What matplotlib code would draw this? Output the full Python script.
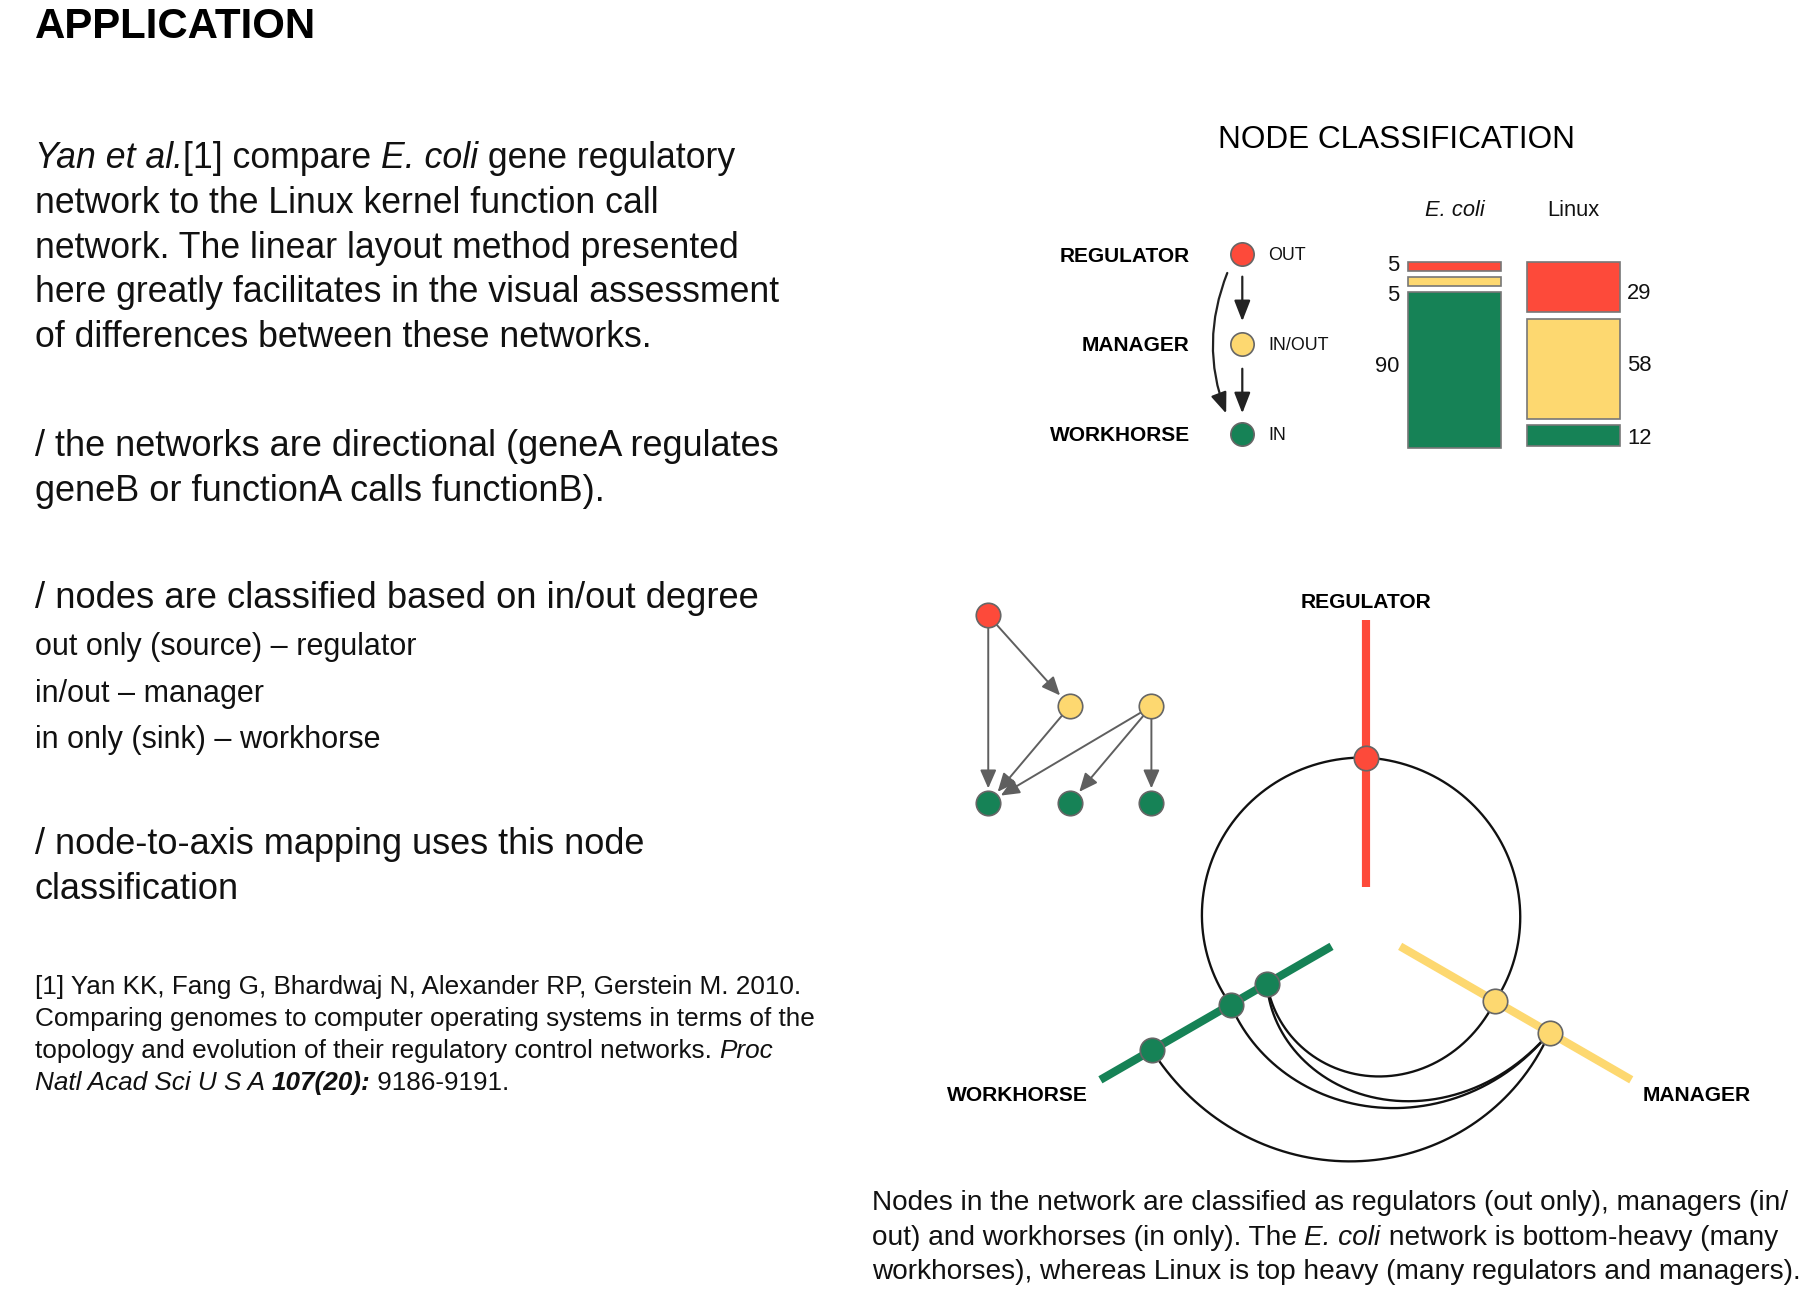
import numpy as np
import matplotlib
matplotlib.use("Agg")
import matplotlib.pyplot as plt

# ---- data ----
title = "APPLICATION"
para_intro = ["_Yan et al._[1] compare _E. coli_ gene regulatory",
              "network to the Linux kernel function call",
              "network. The linear layout method presented",
              "here greatly facilitates in the visual assessment",
              "of differences between these networks."]
para_dir = ["/ the networks are directional (geneA regulates",
            "geneB or functionA calls functionB)."]
para_class = "/ nodes are classified based on in/out degree"
class_items = ["out only (source) \u2013 regulator",
               "in/out \u2013 manager",
               "in only (sink) \u2013 workhorse"]
para_axis = ["/ node-to-axis mapping uses this node",
             "classification"]
reference = ["[1] Yan KK, Fang G, Bhardwaj N, Alexander RP, Gerstein M. 2010.",
             "Comparing genomes to computer operating systems in terms of the",
             "topology and evolution of their regulatory control networks. _Proc_",
             "_Natl Acad Sci U S A ^107(20):^_ 9186-9191."]
caption = ["Nodes in the network are classified as regulators (out only), managers (in/",
           "out) and workhorses (in only). The _E. coli_ network is bottom-heavy (many",
           "workhorses), whereas Linux is top heavy (many regulators and managers)."]

categories = ["REGULATOR", "MANAGER", "WORKHORSE"]
io_labels = ["OUT", "IN/OUT", "IN"]
networks = ["_E. coli_", "Linux"]
ecoli_pct = [5, 5, 90]
linux_pct = [29, 58, 12]

# small example network: (column, row, class)
small_nodes = [(0, 0, 0), (1, 1, 1), (2, 1, 1), (0, 2, 2), (1, 2, 2), (2, 2, 2)]
small_edges = [(0, 1), (0, 3), (1, 3), (2, 3), (2, 4), (2, 5)]

# hive plot: node class and radius along its axis
hive_class = [0, 1, 1, 2, 2, 2]
hive_radius = [145, 128, 182, 212, 134, 98]
hive_edges = [(0, 4), (0, 1), (1, 5), (2, 5), (2, 4), (2, 3)]

colors = ["#FD4A3A", "#FDD870", "#168256"]

# ---- canvas in drawing units ----
W, H = 1560, 1112
S = 1818 / W            # pixels per unit
PT = S * 72 / 100       # points per unit
plt.rcParams["font.family"] = ["Liberation Sans", "DejaVu Sans"]
fig = plt.figure(figsize=(18.18, 12.96), dpi=100)
ax = fig.add_axes([0, 0, 1, 1])
ax.set_xlim(0, W)
ax.set_ylim(H, 0)
ax.axis("off")
rend = fig.canvas.get_renderer()


def width_u(s, **kw):
    t1 = ax.text(0, 0, "|" + s + "|", **kw)
    t2 = ax.text(0, 0, "||", **kw)
    w = t1.get_window_extent(rend).width - t2.get_window_extent(rend).width
    t1.remove()
    t2.remove()
    return w / S


def parse(line):
    parts, buf, it, bd = [], "", False, False
    for ch in line:
        if ch in "_^":
            if buf:
                parts.append((buf, it, bd))
            buf = ""
            if ch == "_":
                it = not it
            else:
                bd = not bd
        else:
            buf += ch
    if buf:
        parts.append((buf, it, bd))
    return parts


def rich(x, y, line, em, ha="left", color="#111111", bold=False):
    fs = em * PT
    parts = parse(line)
    kws = [dict(fontsize=fs, style="italic" if it else "normal",
                weight="bold" if (bd or bold) else "normal") for _, it, bd in parts]
    widths = [width_u(p[0], **k) for p, k in zip(parts, kws)]
    if ha == "center":
        x -= sum(widths) / 2
    elif ha == "right":
        x -= sum(widths)
    for (txt, _, _), k, w in zip(parts, kws, widths):
        ax.text(x, y, txt, va="baseline", ha="left", color=color, **k)
        x += w


# ---- left column ----
rich(30, 33, title, 36, bold=True, color="black")
for i, ln in enumerate(para_intro):
    rich(30, 144 + i * 38.5, ln, 30.6)
for i, ln in enumerate(para_dir):
    rich(30, 391 + i * 38.5, ln, 31.0)
rich(30, 522, para_class, 31.2)
for i, ln in enumerate(class_items):
    rich(30, 562 + i * 40, ln, 26.2)
for i, ln in enumerate(para_axis):
    rich(30, 733 + i * 38.5, ln, 31.0)
for i, ln in enumerate(reference):
    rich(30, 853 + i * 27.5, ln, 22.4)

# ---- node classification legend ----
rich(1198, 127, "NODE CLASSIFICATION", 27, ha="center", color="black")
leg_y = [218, 295, 372]
for k in range(3):
    rich(1021, leg_y[k] + 6.5, categories[k], 17.9, ha="right", bold=True, color="black")
    ax.plot(1066, leg_y[k], "o", ms=20 * PT, mfc=colors[k], mec="#666666", mew=1.2, zorder=5)
    rich(1088, leg_y[k] + 5.5, io_labels[k], 15.3)
arrow_kw = dict(arrowstyle="-|>,head_length=0.9,head_width=0.35", color="#222222",
                lw=1.6, mutation_scale=14)
ax.annotate("", xy=(1066, 278), xytext=(1066, 235), arrowprops=arrow_kw)
ax.annotate("", xy=(1066, 357), xytext=(1066, 314), arrowprops=arrow_kw)
ax.annotate("", xy=(1053, 357), xytext=(1054, 232),
            arrowprops=dict(connectionstyle="arc3,rad=0.2", **arrow_kw))

# ---- stacked bars ----
bar_x = [1248, 1350]
bar_top = 225
unit = 1.48
gap = 5.5
nudges = [[-3, 10, -5], [3, -5, 0]]
for j, vals in enumerate([ecoli_pct, linux_pct]):
    rich(bar_x[j], 185, networks[j], 18.8, ha="center")
    y = bar_top
    for k, v in enumerate(vals):
        ax.bar(bar_x[j], v * unit, bottom=y, width=80, color=colors[k],
               edgecolor="#777777", linewidth=1.2)
        yc = y + v * unit / 2 + nudges[j][k]
        if j == 0:
            rich(1201, yc + 7, str(v), 18.9, ha="right")
        else:
            rich(1396, yc + 7, str(v), 18.9, ha="left")
        y += v * unit + gap

# ---- small example network ----
col_x = [848, 918, 988]
row_y = [528, 606, 689]
for a, b in small_edges:
    xa, ya = col_x[small_nodes[a][0]], row_y[small_nodes[a][1]]
    xb, yb = col_x[small_nodes[b][0]], row_y[small_nodes[b][1]]
    ax.annotate("", xy=(xb, yb), xytext=(xa, ya),
                arrowprops=dict(arrowstyle="-|>,head_length=0.8,head_width=0.35",
                                color="#5f5f5f", lw=1.4, mutation_scale=14,
                                shrinkA=9, shrinkB=10.5))
for cx_, ry_, c in small_nodes:
    ax.plot(col_x[cx_], row_y[ry_], "o", ms=21 * PT, mfc=colors[c], mec="#666666",
            mew=1.2, zorder=5)

# ---- hive plot ----
hc = np.array([1172, 795])
axis_ang = [90, 330, 210]   # regulator, manager, workhorse
r_in, r_out = 34, 263


def polar(ang, r):
    th = np.deg2rad(ang)
    return hc[0] + r * np.cos(th), hc[1] - r * np.sin(th)


for k in range(3):
    x0, y0 = polar(axis_ang[k], r_in)
    x1, y1 = polar(axis_ang[k], r_out)
    ax.plot([x0, x1], [y0, y1], color=colors[k], lw=7 * PT, solid_capstyle="butt", zorder=1)

edge_bulge = [5, 0, 15, 5, -4, 4]
t = np.linspace(0, 1, 300)
for (a, b), bl in zip(hive_edges, edge_bulge):
    a0, a1 = axis_ang[hive_class[a]], axis_ang[hive_class[b]]
    d = ((a1 - a0 + 180) % 360) - 180
    ang = a0 + d * t
    rr = hive_radius[a] + (hive_radius[b] - hive_radius[a]) * t + bl * np.sin(np.pi * t)
    xs, ys = polar(ang, rr)
    ax.plot(xs, ys, color="#111111", lw=2 * PT, zorder=2)

for n in range(len(hive_class)):
    x, y = polar(axis_ang[hive_class[n]], hive_radius[n])
    ax.plot(x, y, "o", ms=21 * PT, mfc=colors[hive_class[n]], mec="#666666", mew=1.2, zorder=5)

rich(1172, 522, categories[0], 18, ha="center", bold=True, color="black")
rich(873, 945, categories[2], 18, ha="center", bold=True, color="black")
rich(1456, 945, categories[1], 18, ha="center", bold=True, color="black")

# ---- caption ----
for i, ln in enumerate(caption):
    rich(748, 1038.5 + i * 29.5, ln, 24.0)

fig.savefig("out.png", dpi=100)
